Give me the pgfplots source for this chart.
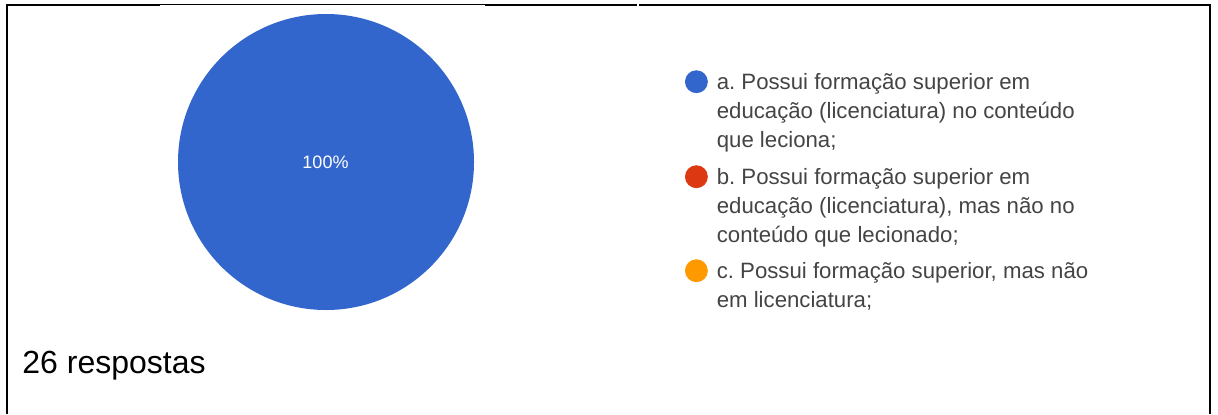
\documentclass[border=0pt]{standalone}
\usepackage{pgfplots}
\usepackage{pgfplotstable}
\pgfplotsset{compat=1.18}
\usepackage{fontspec}
\setmainfont{Liberation Sans}
\frenchspacing

\definecolor{pieA}{HTML}{3366CC}
\definecolor{pieB}{HTML}{DC3912}
\definecolor{pieC}{HTML}{FF9900}
\definecolor{legtxt}{HTML}{444444}

% respostas por opcao
\pgfplotstableread{
opcao n
a 26
b 0
c 0
}\respostas

\pgfplotsset{
  pieframe/.style={x=0.5pt, y=0.5pt, xmin=0, xmax=1218, ymin=0, ymax=414,
    hide axis, clip=false,
    legend cell align=left,
    legend image code/.code={\fill[##1] (0pt,0pt) circle[radius=5.5pt];},
    legend style={anchor=north west,
      draw=none, fill=none, inner sep=0pt, outer sep=0pt,
      row sep=0pt, column sep=4.5pt,
      font=\fontsize{11.1}{12.5}\selectfont, text=legtxt,
      nodes={inner sep=0pt, outer sep=0pt, text height=11.17pt, text depth=3.23pt}}},
}

\begin{document}
\begin{tikzpicture}
\useasboundingbox (0,0) rectangle (609pt,207pt);
\pgfplotstablegetelem{0}{n}\of\respostas \edef\na{\pgfplotsretval}
\pgfplotstablegetelem{1}{n}\of\respostas \edef\nb{\pgfplotsretval}
\pgfplotstablegetelem{2}{n}\of\respostas \edef\nc{\pgfplotsretval}
\pgfmathsetmacro\tot{\na+\nb+\nc}
\pgfmathsetmacro\angA{360*\na/\tot}
\pgfmathsetmacro\angB{360*\nb/\tot}
\pgfmathsetmacro\angC{360*\nc/\tot}
\pgfmathtruncatemacro\pctA{round(100*\na/\tot)}

% option a + pie
\begin{axis}[pieframe, legend style={at={(axis cs:685,346.7)}}]
% frame
\draw[line width=1.25pt] (axis cs:7,0) -- (axis cs:7,409) -- (axis cs:160,409);
\draw[line width=0.6pt] (axis cs:160,409.5) -- (axis cs:485,409.5);
\draw[line width=1.25pt] (axis cs:485,409) -- (axis cs:637,409);
\draw[line width=1.25pt] (axis cs:639,409) -- (axis cs:1210,409) -- (axis cs:1210,0);
% pie slices (zero slices skipped)
\ifdim\angA pt>0pt
\fill[pieA] (axis cs:326,252) -- ++(90:148) arc[start angle=90, delta angle=-\angA, radius=148] -- cycle;
\fi
\ifdim\angB pt>0pt
\fill[pieB] (axis cs:326,252) -- ++({90-\angA}:148) arc[start angle=90-\angA, delta angle=-\angB, radius=148] -- cycle;
\fi
\ifdim\angC pt>0pt
\fill[pieC] (axis cs:326,252) -- ++({90-\angA-\angB}:148) arc[start angle=90-\angA-\angB, delta angle=-\angC, radius=148] -- cycle;
\fi
\node[white, inner sep=0pt, font=\fontsize{9}{10}\selectfont] at (axis cs:325.5,252.2) {\pctA\%};
\node[anchor=base west, inner sep=0pt, font=\fontsize{16}{18}\selectfont] at (axis cs:22,41) {26 respostas};
\addlegendimage{pieA}
\addlegendentry{a. Possui formação superior em}
\addlegendimage{empty legend}\addlegendentry{educação (licenciatura) no conteúdo}
\addlegendimage{empty legend}\addlegendentry{que leciona;}
\end{axis}

% option b
\begin{axis}[pieframe, legend style={at={(axis cs:685,251.7)}}]
\addlegendimage{pieB}
\addlegendentry{b. Possui formação superior em}
\addlegendimage{empty legend}\addlegendentry{educação (licenciatura), mas não no}
\addlegendimage{empty legend}\addlegendentry{conteúdo que lecionado;}
\end{axis}

% option c
\begin{axis}[pieframe, legend style={at={(axis cs:685,157.7)}}]
\addlegendimage{pieC}
\addlegendentry{c. Possui formação superior, mas não}
\addlegendimage{empty legend}\addlegendentry{em licenciatura;}
\end{axis}
\end{tikzpicture}
\end{document}
